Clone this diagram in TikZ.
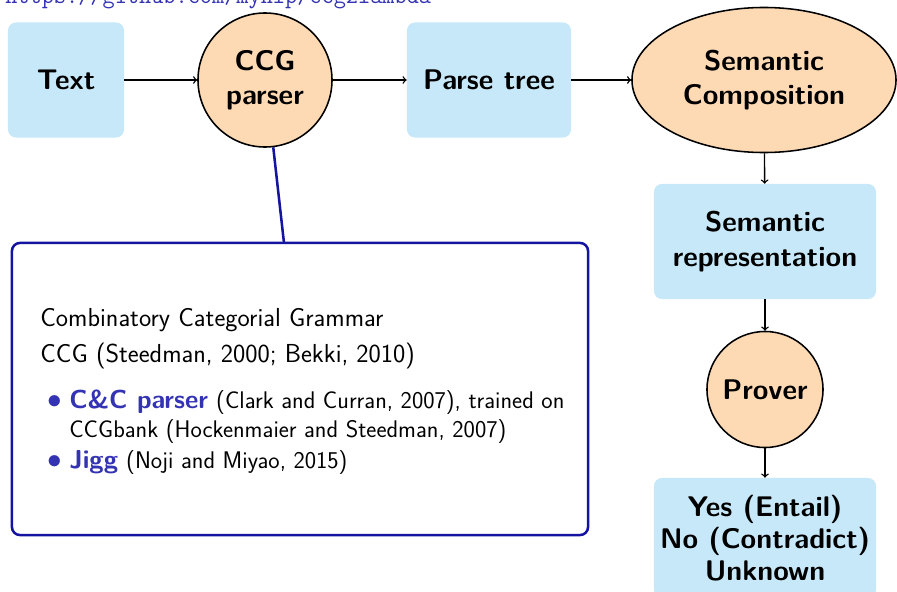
\documentclass[tikz,border=0pt]{standalone}
\usepackage{tikz}
\usetikzlibrary{shapes.geometric}
\definecolor{boxblue}{RGB}{198,232,248}
\definecolor{peach}{RGB}{253,218,180}
\definecolor{structblue}{RGB}{51,51,179}
\definecolor{noteblue}{RGB}{20,20,160}
\newcommand{\stagefont}{\fontsize{20.2}{24.5}\selectfont\sffamily\bfseries}
\newcommand{\answerfont}{\fontsize{20.2}{23}\selectfont\sffamily\bfseries}
\newcommand{\notefont}{\fontsize{18.5}{21}\selectfont\sffamily}
\newcommand{\citefont}{\fontsize{17.1}{19}\selectfont\sffamily}
\newcommand{\dotfont}{\fontsize{21}{21}\selectfont}
\newcommand{\linkfont}{\fontsize{16.8}{18}\selectfont\ttfamily}
\tikzset{
  stagebox/.style={fill=boxblue, rounded corners=0.2cm, font=\stagefont, align=center, minimum height=2.875cm},
  toolnode/.style={circle, draw, line width=1.1pt, fill=peach, font=\stagefont, align=center, inner sep=0pt},
  flow/.style={->, line width=1pt},
  noteline/.style={anchor=base west, font=\notefont, inner sep=0pt},
  notedot/.style={anchor=base, font=\dotfont, text=structblue, inner sep=0pt}
}

\begin{document}
\begin{tikzpicture}[x=0.025cm, y=-0.025cm]
\useasboundingbox (0,0) rectangle (897,592);

\node[anchor=base west, font=\linkfont, text=structblue, inner sep=0pt] (link) at (5,3.5) {https://github.com/mynlp/ccg2lambda};

% pipeline
\node[stagebox, minimum width=2.9cm] (text) at (66,80) {Text};
\node[toolnode, minimum size=3.35cm] (ccg) at (265,80) {CCG\\parser};
\node[stagebox, minimum width=4.1cm] (tree) at (489,80) {Parse tree};
\node[ellipse, draw, line width=1.1pt, fill=peach, font=\stagefont, align=center, inner sep=0pt,
      minimum width=6.6cm, minimum height=3.625cm] (comp) at (764,80) {Semantic\\Composition};
\node[stagebox, minimum width=5.55cm] (rep) at (765,241.5) {Semantic\\representation};
\node[toolnode, minimum size=2.9cm] (prover) at (765,389.5) {Prover};
\node[stagebox, font=\answerfont, minimum width=5.55cm, minimum height=3cm] (answer) at (765,538) {Yes (Entail)\\No (Contradict)\\Unknown};

\draw[flow] (text) -- (ccg);
\draw[flow] (ccg) -- (tree);
\draw[flow] (tree) -- (comp);
\draw[flow] (comp) -- (rep);
\draw[flow] (rep) -- (prover);
\draw[flow] (prover) -- (answer);

% note on the parser
\node[draw=noteblue, line width=1.8pt, rounded corners=0.2cm, minimum width=14.4cm, minimum height=7.3cm] (note) at (300,389) {};
\coordinate (hook) at (284,243);
\draw[noteblue, line width=1.8pt] (ccg.-83) -- (hook);

\node[noteline] (ccgname) at (40,326) {Combinatory Categorial Grammar};
\node[noteline] (ccgcite) at (40,362) {CCG (Steedman, 2000; Bekki, 2010)};
\node[notedot] (dotone) at (55,408) {$\bullet$};
\node[noteline] (candc) at (69,408) {\textcolor{structblue}{\bfseries C\&C parser} {\citefont (Clark and Curran, 2007), trained on}};
\node[anchor=base west, font=\citefont, inner sep=0pt] (bank) at (69,437) {CCGbank (Hockenmaier and Steedman, 2007)};
\node[notedot] (dottwo) at (55,468) {$\bullet$};
\node[noteline] (jigg) at (69,468) {\textcolor{structblue}{\bfseries Jigg} {\citefont (Noji and Miyao, 2015)}};
\end{tikzpicture}
\end{document}
